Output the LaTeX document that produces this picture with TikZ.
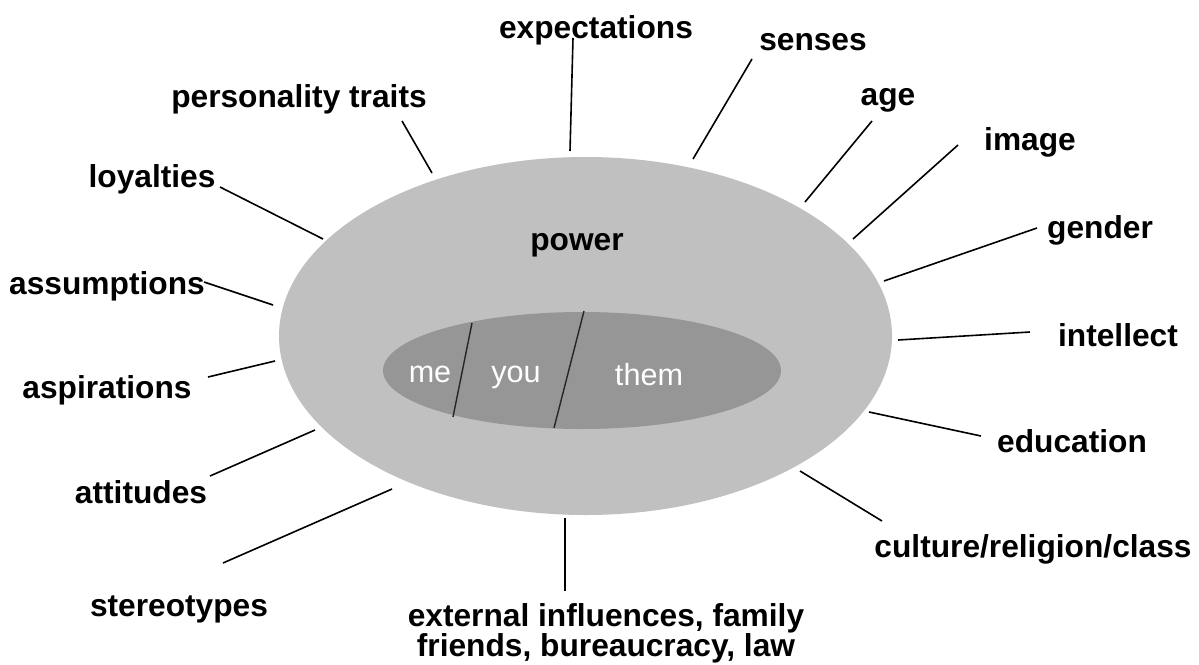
\documentclass[tikz,border=0pt]{standalone}
\usepackage{fontspec}
\setmainfont{Liberation Sans}
\usetikzlibrary{shapes.geometric}
\definecolor{outergray}{RGB}{192,192,192}
\definecolor{innergray}{RGB}{150,150,150}
\begin{document}
\begin{tikzpicture}[x=1pt,y=-1pt,
  lbl/.style={font=\fontsize{31.7}{30}\selectfont\bfseries, inner sep=0, anchor=base},
  inlbl/.style={font=\fontsize{30.6}{30}\selectfont, text=white, inner sep=0, anchor=base},
  conn/.style={line width=1.6pt, black},
  divider/.style={line width=1.4pt, black!85},
  ring/.style={ellipse, inner sep=0, draw=none}
  ]
\useasboundingbox (0,0) rectangle (1199,664);
\fill[white] (0,0) rectangle (1199,664);

% ellipses
\node[ring, fill=outergray, minimum width=613pt, minimum height=358pt] (outer) at (585.5,336) {};
\node[ring, fill=innergray, minimum width=398pt, minimum height=117pt] (inner) at (582,370.5) {};

% dividers inside inner ellipse
\coordinate (d1a) at (472,323); \coordinate (d1b) at (453,417);
\coordinate (d2a) at (584,311); \coordinate (d2b) at (554,428);
\draw[divider] (d1a) -- (d1b);
\draw[divider] (d2a) -- (d2b);

% inner labels
\node[inlbl] (me) at (430,382) {me};
\node[inlbl] (you) at (516,382) {you};
\node[inlbl] (them) at (649,385) {them};
\node[lbl] (power) at (577,250) {power};

% outer labels
\node[lbl] (expectations) at (596,38) {expectations};
\node[lbl] (senses) at (813,50) {senses};
\node[lbl] (personality) at (299,107) {personality traits};
\node[lbl] (age) at (888,105) {age};
\node[lbl] (image) at (1030,150) {image};
\node[lbl] (loyalties) at (152,187) {loyalties};
\node[lbl] (gender) at (1100,238) {gender};
\node[lbl] (assumptions) at (107,294) {assumptions};
\node[lbl] (intellect) at (1118,346) {intellect};
\node[lbl] (aspirations) at (107,398) {aspirations};
\node[lbl] (education) at (1072,452) {education};
\node[lbl] (attitudes) at (141,503) {attitudes};
\node[lbl] (culture) at (1033,557) {culture/religion/class};
\node[lbl] (stereotypes) at (179,616) {stereotypes};
\node[lbl, anchor=north, align=center] (external) at (606,603) {external influences, family\\friends, bureaucracy, law};

% connector end points
\coordinate (expA) at (573,38);  \coordinate (expB) at (570,151);
\coordinate (perA) at (402,121); \coordinate (perB) at (432,173);
\coordinate (senA) at (752,59);  \coordinate (senB) at (693,159);
\coordinate (ageA) at (872,121); \coordinate (ageB) at (805,202);
\coordinate (imgA) at (958,145); \coordinate (imgB) at (853,239);
\coordinate (loyA) at (220,187); \coordinate (loyB) at (323,239);
\coordinate (genA) at (1037,228);\coordinate (genB) at (884,281);
\coordinate (assA) at (204,282); \coordinate (assB) at (273,305);
\coordinate (intA) at (1030,332);\coordinate (intB) at (898,340);
\coordinate (aspA) at (208,377); \coordinate (aspB) at (275,361);
\coordinate (eduA) at (981,436); \coordinate (eduB) at (869,412);
\coordinate (attA) at (210,476); \coordinate (attB) at (315,430);
\coordinate (culA) at (882,521); \coordinate (culB) at (800,471);
\coordinate (steA) at (223,563); \coordinate (steB) at (392,489);
\coordinate (extA) at (565,591); \coordinate (extB) at (565,518);

\foreach \p in {exp,per,sen,age,img,loy,gen,ass,int,asp,edu,att,cul,ste,ext}
  \draw[conn] (\p A) -- (\p B);
\end{tikzpicture}
\end{document}
